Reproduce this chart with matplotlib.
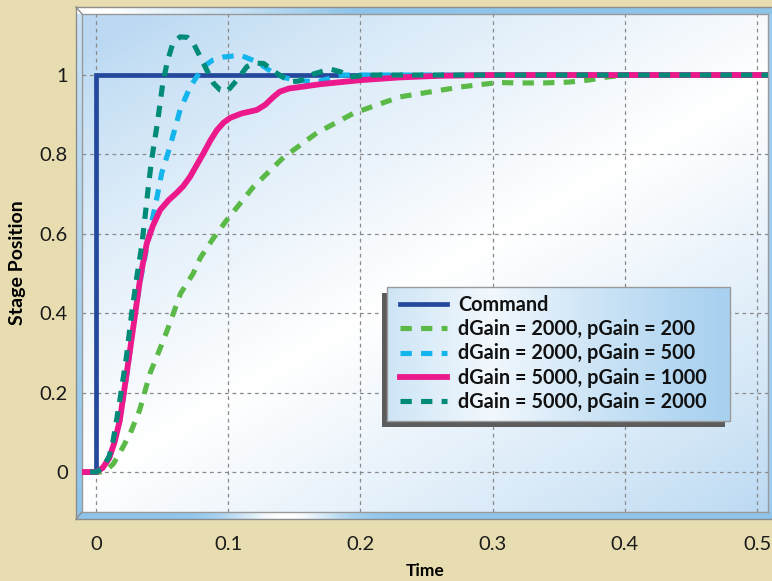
import numpy as np
import matplotlib
matplotlib.use("Agg")
import matplotlib.pyplot as plt
from matplotlib.patches import Rectangle
from matplotlib.lines import Line2D

plt.rcParams['font.family'] = ['Lato', 'DejaVu Sans']

# ---------------- data ----------------
labels = ["Command",
          "dGain = 2000, pGain = 200",
          "dGain = 2000, pGain = 500",
          "dGain = 5000, pGain = 1000",
          "dGain = 5000, pGain = 2000"]

cmd_t = [-0.02, 0.0, 0.0, 0.52]
cmd_y = [0.0, 0.0, 1.0, 1.0]

g200_t = [-0.02, 0.0, 0.004, 0.008, 0.013, 0.018, 0.026, 0.033, 0.041, 0.048, 0.054,
          0.064, 0.0735, 0.079, 0.089, 0.099, 0.119, 0.142, 0.167, 0.195, 0.23,
          0.276, 0.304, 0.32, 0.339, 0.357, 0.372, 0.387, 0.4, 0.52]
g200_y = [0.0, 0.0, 0.0, 0.005, 0.02, 0.048, 0.098, 0.156, 0.25, 0.307, 0.358,
          0.45, 0.50, 0.54, 0.59, 0.635, 0.718, 0.793, 0.854, 0.904, 0.945,
          0.970, 0.981, 0.980, 0.980, 0.982, 0.987, 0.995, 1.0, 1.0]

g500_t = [-0.02, 0.0, 0.005, 0.01, 0.014, 0.018, 0.024, 0.028, 0.034, 0.041, 0.046,
          0.0497, 0.056, 0.0636, 0.0712, 0.081, 0.088, 0.096, 0.109, 0.122, 0.134,
          0.143, 0.152, 0.167, 0.185, 0.2, 0.52]
g500_y = [0.0, 0.0, 0.01, 0.035, 0.075, 0.13, 0.26, 0.37, 0.49, 0.61, 0.69,
          0.753, 0.82, 0.912, 0.97, 1.02, 1.037, 1.045, 1.05, 1.033, 1.005,
          0.993, 0.987, 0.982, 1.0, 1.0, 1.0]

g1000_t = [-0.02, 0.0, 0.005, 0.01, 0.014, 0.018, 0.0235, 0.028, 0.0335, 0.0384,
           0.043, 0.0485, 0.055, 0.061, 0.066, 0.0712, 0.076, 0.0813, 0.0865, 0.0914,
           0.0965, 0.1015, 0.11, 0.1217, 0.128, 0.1343, 0.139, 0.146, 0.155, 0.17,
           0.185, 0.2, 0.23, 0.26, 0.3, 0.52]
g1000_y = [0.0, 0.0, 0.01, 0.035, 0.075, 0.13, 0.255, 0.36, 0.49, 0.576,
           0.62, 0.66, 0.685, 0.703, 0.72, 0.744, 0.772, 0.803, 0.835, 0.861,
           0.88, 0.892, 0.903, 0.912, 0.925, 0.945, 0.958, 0.966, 0.970, 0.977,
           0.982, 0.987, 0.994, 0.998, 1.0, 1.0]

g2000_t = [-0.02, 0.0, 0.005, 0.01, 0.013, 0.018, 0.023, 0.027, 0.0308, 0.0346,
           0.0371, 0.0396, 0.042, 0.0464, 0.0485, 0.0505, 0.054, 0.0581, 0.0636,
           0.069, 0.0737, 0.0813, 0.0889, 0.094, 0.099, 0.1066, 0.1141, 0.12,
           0.1268, 0.1369, 0.147, 0.154, 0.162, 0.177, 0.185, 0.192, 0.2, 0.21, 0.52]
g2000_y = [0.0, 0.0, 0.01, 0.04, 0.08, 0.18, 0.29, 0.40, 0.49, 0.57,
           0.643, 0.719, 0.785, 0.878, 0.929, 0.979, 1.034, 1.08, 1.096,
           1.095, 1.08, 1.029, 0.979, 0.962, 0.958, 0.987, 1.021, 1.03,
           1.029, 1.004, 0.983, 0.985, 1.0, 1.015, 1.008, 0.995, 0.998, 1.0, 1.0]

xticks = [0, 0.1, 0.2, 0.3, 0.4, 0.5]
xticklabels = ["0", "0.1", "0.2", "0.3", "0.4", "0.5"]
yticks = [0, 0.2, 0.4, 0.6, 0.8, 1.0]
yticklabels = ["0", "0.2", "0.4", "0.6", "0.8", "1"]

# ---------------- figure ----------------
W, H = 772, 581
fig = plt.figure(figsize=(W / 100, H / 100), dpi=100, facecolor='#E8DDB1')

def fx(px):
    return px / W

def fy(py):
    return 1 - py / H

# bevel frame background axes
OL, OT, OR, OB = 76, 7, 774, 519
IL, IT, IR, IB = 82, 14, 768, 512
fax = fig.add_axes([fx(OL), fy(OB), fx(OR) - fx(OL), fy(OT) - fy(OB)], zorder=-1)
fax.set_axis_off()
nw, nh = OR - OL, OB - OT
img = np.ones((nh, nw, 3))
blue = np.array([0.56, 0.77, 0.92])
xs = np.linspace(0, 1, nw)
topc = np.clip((xs - 0.05) / 0.35, 0, 1)[:, None] * (blue - 1) + 1
img[:IT - OT, :, :] = topc[None, :, :]
hl = np.exp(-((xs - 0.30) / 0.08) ** 2)
botc = blue[None, :] + (1 - blue)[None, :] * hl[:, None]
img[IB - OT:, :, :] = botc[None, :, :]
ys = np.linspace(0, 1, nh)
c_top = np.array([0.80, 0.89, 0.96])
c_bot = np.array([0.55, 0.77, 0.92])
leftc = c_top[None, :] + (c_bot - c_top)[None, :] * ys[:, None]
img[IT - OT:IB - OT, :IL - OL, :] = leftc[IT - OT:IB - OT, None, :]
img[IT - OT:IB - OT, IR - OL:, :] = np.array([0.62, 0.80, 0.93])
fax.imshow(img, aspect='auto', interpolation='bilinear', extent=[0, 1, 0, 1])
fax.set_xlim(0, 1)
fax.set_ylim(0, 1)

def fline(xp, yp):
    fig.add_artist(Line2D([fx(x) for x in xp], [fy(y) for y in yp],
                          transform=fig.transFigure, color='#8c8c8c', lw=1.0, zorder=0))

fline([OL, OR], [OT, OT])
fline([OL, OL], [OT, OB])
fline([OL, OR], [OB, OB])
fline([OL, IL], [OT, IT])
fline([OL, IL], [OB, IB])

# main axes
ax = fig.add_axes([fx(IL), fy(IB), fx(IR) - fx(IL), fy(IT) - fy(IB)])

gu, gv = np.meshgrid(np.linspace(0, 1, 300), np.linspace(1, 0, 300))
d = (gu * 0.9 + (1 - gv) * 1.1) / 2.0
f = np.clip(1 - np.abs(d - 0.52) * 2.1, 0, 1) ** 0.8
bgb = np.array([0.73, 0.85, 0.95])
bg = bgb[None, None, :] + (1 - bgb)[None, None, :] * f[:, :, None]
ax.imshow(bg, extent=[0, 1, 0, 1], transform=ax.transAxes, aspect='auto',
          interpolation='bilinear', zorder=0)

ax.grid(True, color='#8a8a8a', lw=0.9, linestyle=(0, (3, 3)), zorder=1)
ax.set_axisbelow(False)

lw_d = 3.7
dash = (2.2, 1.8)
ax.plot(cmd_t, cmd_y, color='#24489C', lw=3.4, label=labels[0], zorder=3,
        solid_joinstyle='miter')
ax.plot(g200_t, g200_y, color='#5BBA47', lw=lw_d, dashes=dash, label=labels[1],
        zorder=3, dash_capstyle='butt')
ax.plot(g500_t, g500_y, color='#14B5EC', lw=lw_d, dashes=dash, label=labels[2],
        zorder=3, dash_capstyle='butt')
ax.plot(g1000_t, g1000_y, color='#EC198C', lw=4.2, label=labels[3], zorder=3,
        solid_joinstyle='round')
ax.plot(g2000_t, g2000_y, color='#008B78', lw=lw_d, dashes=dash, label=labels[4],
        zorder=3, dash_capstyle='butt')

ax.set_xticks(xticks)
ax.set_xticklabels(xticklabels)
ax.set_yticks(yticks)
ax.set_yticklabels(yticklabels)
ax.tick_params(axis='both', length=0, labelsize=14.5, colors='#1a1a1a')
ax.tick_params(axis='x', pad=17)
ax.tick_params(axis='y', pad=10)
for s in ax.spines.values():
    s.set_color('#999999')
    s.set_linewidth(1.0)

ax.set_xlabel('Time', fontsize=12.5, fontweight='bold', va='center')
ax.xaxis.set_label_coords(0.5, (IB - 571) / (IB - IT))
ax.set_ylabel('Stage Position', fontsize=14, fontweight='bold', va='center')
ax.yaxis.set_label_coords((18 - IL) / (IR - IL), 0.5)

# legend box
axw, axh = IR - IL, IB - IT
bx0 = (387 - IL) / axw
bx1 = (730 - IL) / axw
by1 = (IB - 287) / axh
by0 = (IB - 421) / axh
sdx = -5 / axw
sdy = -6 / axh
ax.add_patch(Rectangle((bx0 + sdx, by0 + sdy), bx1 - bx0, by1 - by0, transform=ax.transAxes,
                       facecolor='#5c5c5c', edgecolor='none', zorder=4.2))
lx = np.linspace(0, 1, 200)
lf = np.clip(1 - np.abs(lx - 0.3) / 0.7, 0, 1) ** 1.2
lb = np.array([0.66, 0.82, 0.94])
lg = lb[None, None, :] + (1 - lb)[None, None, :] * (0.85 * lf)[None, :, None]
lg = np.repeat(lg, 2, axis=0)
ax.imshow(lg, extent=[bx0, bx1, by0, by1], transform=ax.transAxes, aspect='auto',
          interpolation='bilinear', zorder=4.3)
ax.add_patch(Rectangle((bx0, by0), bx1 - bx0, by1 - by0, transform=ax.transAxes,
                       facecolor='none', edgecolor='#9a9a9a', lw=1.0, zorder=4.4))

leg = ax.legend(loc='upper left', bbox_to_anchor=(bx0 + 5 / axw, by1), borderaxespad=0,
                frameon=False, prop={'size': 14.3, 'weight': 'bold'},
                handlelength=2.4, handletextpad=0.55, labelspacing=0.225,
                borderpad=0.38)
leg.set_zorder(5)
for t in leg.get_texts():
    t.set_color('#111111')

ax.set_xlim((IL - 96) / 1322, (IR - 96) / 1322)
ax.set_ylim((472 - IB) / 397, (472 - IT) / 397)

fig.savefig('out.png', dpi=100, facecolor=fig.get_facecolor())
